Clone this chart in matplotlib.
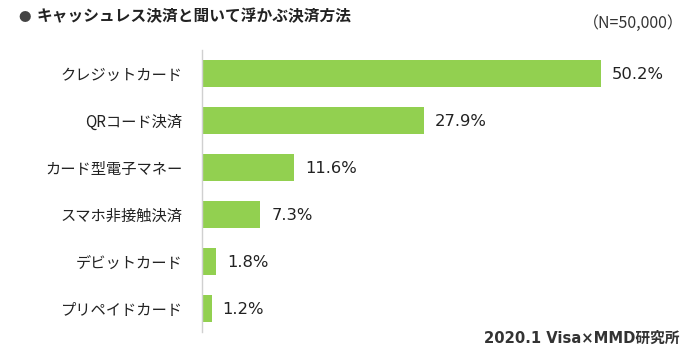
import matplotlib

matplotlib.use("Agg")
import matplotlib.pyplot as plt

plt.rcParams["font.family"] = ["Noto Sans CJK JP", "DejaVu Sans"]

categories = ["クレジットカード", "QRコード決済", "カード型電子マネー",
              "スマホ非接触決済", "デビットカード", "プリペイドカード"]
values = [50.2, 27.9, 11.6, 7.3, 1.8, 1.2]
title = "キャッシュレス決済と聞いて浮かぶ決済方法"
note = "（N=50,000）"
source = "2020.1 Visa×MMD研究所"

W, H = 700, 361
fig = plt.figure(figsize=(W / 100, H / 100), dpi=100)
ax = fig.add_axes([202 / W, 1 - 332 / H, 498 / W, 282 / H])

y = list(range(len(categories)))
ax.barh(y, values, height=0.58, color="#92d050", left=0)
ax.set_ylim(len(categories) - 0.5, -0.5)
ax.set_xlim(0, 498 / 7.95)

for yi, v in zip(y, values):
    ax.text(v + 1.4, yi + 0.03, f"{v}%", va="center", ha="left", fontsize=11.8,
            color="#222222", family=["DejaVu Sans"])

ax.set_yticks(y)
ax.set_yticklabels(categories, fontsize=11, color="#222222")
ax.tick_params(axis="y", length=0, pad=14)
ax.set_xticks([])
for side in ("top", "right", "bottom"):
    ax.spines[side].set_visible(False)
ax.spines["left"].set_color("#d0d0d0")
ax.spines["left"].set_linewidth(1)

fig.text(25 / W, 1 - 17 / H, "●", fontsize=9, color="#444444", va="center", ha="center")
fig.text(37 / W, 1 - 16 / H, title, fontsize=11.3, fontweight="bold", color="#222222", va="center")
fig.text(684 / W, 1 - 23 / H, note, fontsize=11.5, color="#333333", va="center", ha="right")
fig.text(680 / W, 1 - 338 / H, source, fontsize=10.6, fontweight="bold", color="#333333",
         va="center", ha="right", family=["DejaVu Sans", "Noto Sans CJK JP"])

fig.savefig("out.png", dpi=100)
